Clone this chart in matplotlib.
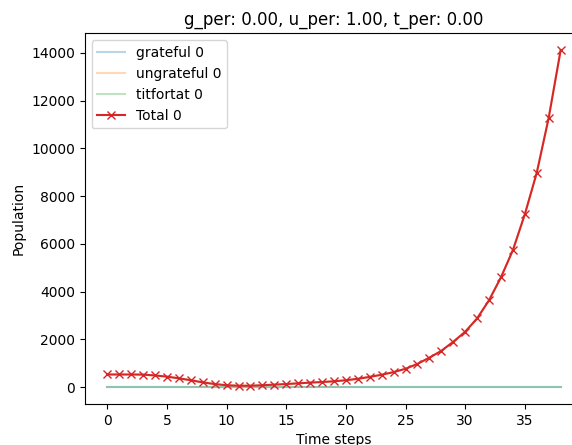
import matplotlib
matplotlib.use("Agg")
import matplotlib.pyplot as plt
import numpy as np

# values
time_steps = list(range(39))
total = [530, 530, 530, 525, 490, 440, 370, 290, 200, 130,
         80, 60, 60, 80, 105, 130, 160, 190, 215, 245,
         290, 350, 430, 520, 630, 770, 975, 1235, 1520, 1900,
         2320, 2880, 3640, 4600, 5740, 7240, 8980, 11280, 14110]
grateful = [0] * len(time_steps)
ungrateful = list(total)
titfortat = [0] * len(time_steps)

g_per, u_per, t_per = 0.0, 1.0, 0.0

fig = plt.figure(figsize=(5.72, 4.45), dpi=100)
ax = fig.add_axes([84.6 / 572, 41 / 445, 498.7 / 572, 370.6 / 445])

ax.plot(time_steps, grateful, alpha=0.3, label='grateful 0')
ax.plot(time_steps, ungrateful, alpha=0.3, label='ungrateful 0')
ax.plot(time_steps, titfortat, alpha=0.3, label='titfortat 0')
ax.plot(time_steps, total, color='C3', marker='x', label='Total 0')

ax.set_xlabel('Time steps')
ax.set_ylabel('Population')
ax.set_title(f'g_per: {g_per:.2f}, u_per: {u_per:.2f}, t_per: {t_per:.2f}')
ax.legend(loc='upper left')

fig.savefig('out.png', dpi=100)
